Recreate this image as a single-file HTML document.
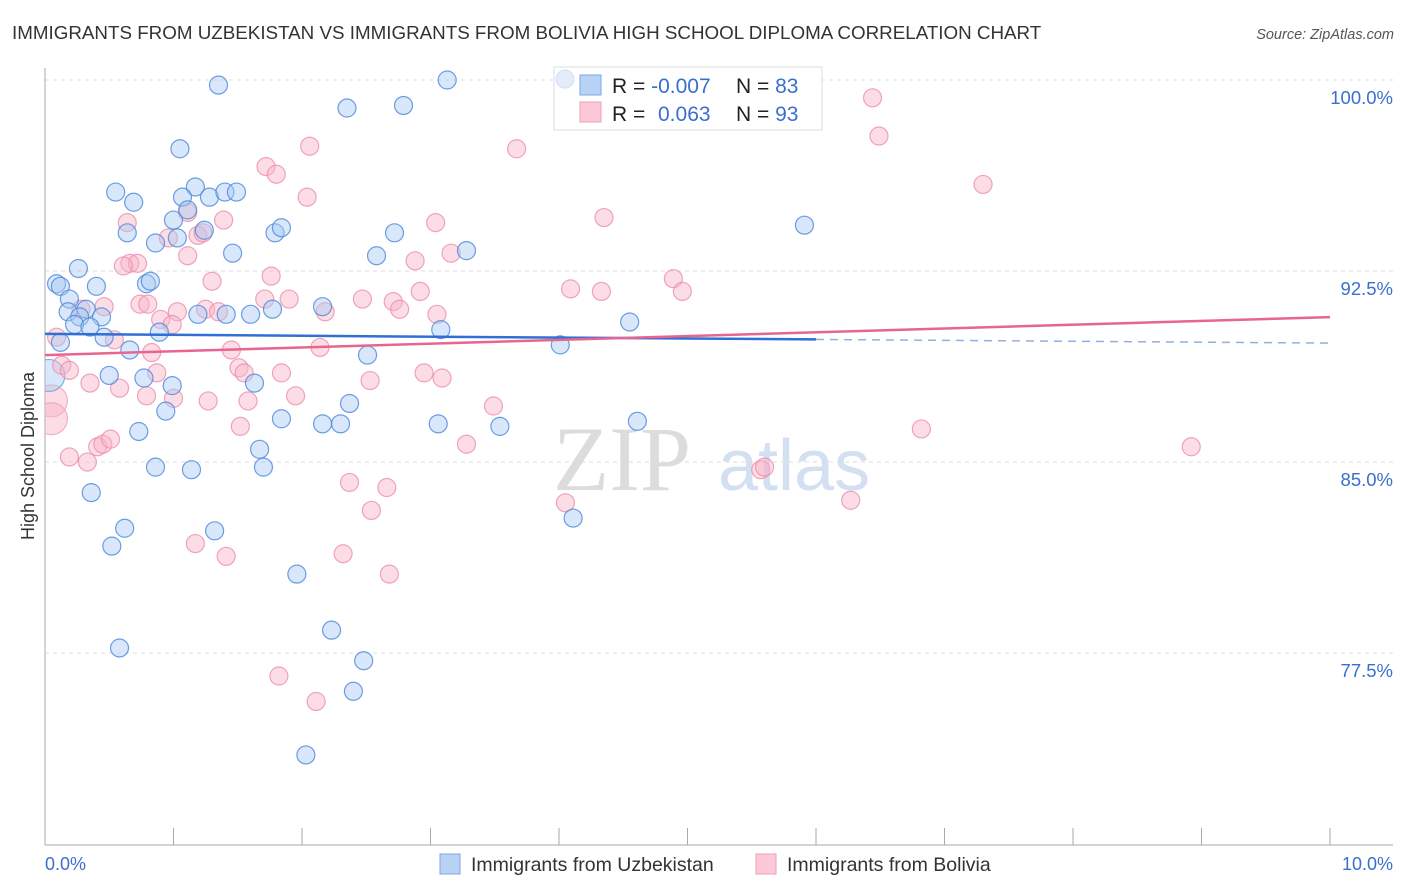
<!DOCTYPE html>
<html><head><meta charset="utf-8"><style>
body{margin:0;background:#fff;font-family:"Liberation Sans",sans-serif;}
#wrap{position:relative;width:1406px;height:892px;overflow:hidden;}
</style></head><body>
<div id="wrap">
<svg id="svg" width="1406" height="892" xmlns="http://www.w3.org/2000/svg">
<defs><clipPath id="plotclip"><rect x="45" y="60" width="1360" height="785"/></clipPath></defs>
<text x="12" y="39" font-size="18.8" fill="#333">IMMIGRANTS FROM UZBEKISTAN VS IMMIGRANTS FROM BOLIVIA HIGH SCHOOL DIPLOMA CORRELATION CHART</text>
<text x="1394" y="39" font-size="14.5" fill="#555" font-style="italic" text-anchor="end">Source: ZipAtlas.com</text>
<text transform="translate(34,456) rotate(-90)" font-size="18" fill="#333" text-anchor="middle">High School Diploma</text>
<g><text x="553" y="490" font-family="Liberation Serif" font-size="92" fill="#dcdcdc">ZIP</text><text x="718" y="490" font-size="72" fill="#d3e0f2">atlas</text></g>
<g id="grid"></g><g id="axes"></g><g id="pts" clip-path="url(#plotclip)"></g><g id="trend"></g>
<g>
<rect x="554" y="67" width="268" height="63" fill="#fff" stroke="#ddd"/>
<circle cx="565" cy="79" r="9" fill="#dde8f8" stroke="#c8d8ee" opacity="0.8"/>
<rect x="580" y="75" width="21" height="20" fill="#b8d3f5" stroke="#7aa8e8"/>
<rect x="580" y="102" width="21" height="20" fill="#fcc9d7" stroke="#f0a0b8"/>
<text x="612" y="93" font-size="21" fill="#222">R = <tspan fill="#3a6fd0">-0.007</tspan><tspan x="736">N = </tspan><tspan fill="#3a6fd0">83</tspan></text>
<text x="612" y="121" font-size="21" fill="#222">R = <tspan x="658" fill="#3a6fd0">0.063</tspan><tspan x="736">N = </tspan><tspan fill="#3a6fd0">93</tspan></text>
</g>
<g>
<rect x="440" y="854" width="20" height="20" fill="#b8d3f5" stroke="#7aa8e8"/>
<text x="471" y="871" font-size="19.5" fill="#333">Immigrants from Uzbekistan</text>
<rect x="756" y="854" width="20" height="20" fill="#fcc9d7" stroke="#f0a0b8"/>
<text x="787" y="871" font-size="19.5" fill="#333">Immigrants from Bolivia</text>
</g>
</svg>
</div>
<script>
const yTicks=[100,92.5,85,77.5];
const yTickLabels=["100.0%","92.5%","85.0%","77.5%"];
const xEndLabels=["0.0%","10.0%"];
const blueX=[1.35,3.13,2.35,2.79,1.05,0.55,0.69,1.17,1.07,1.28,1.40,1.49,1.00,1.11,0.64,0.86,1.03,1.24,1.46,1.79,1.84,2.72,2.58,3.28,5.91,0.09,0.12,0.26,0.40,0.79,0.82,0.19,0.32,0.18,0.27,0.44,0.23,0.35,0.46,1.19,1.41,1.60,1.77,2.16,3.08,4.55,0.89,0.12,0.66,0.50,0.77,0.99,1.63,2.51,4.01,0.73,0.94,1.84,2.16,2.30,2.37,3.06,3.54,4.61,1.67,1.70,0.86,1.14,0.36,0.62,0.52,1.32,4.11,1.96,2.23,0.58,2.48,2.40,2.03,4.05];
const blueY=[99.8,100.0,98.9,99.0,97.3,95.6,95.2,95.8,95.4,95.4,95.6,95.6,94.5,94.9,94.0,93.6,93.8,94.1,93.2,94.0,94.2,94.0,93.1,93.3,94.3,92.0,91.9,92.6,91.9,92.0,92.1,91.4,91.0,90.9,90.7,90.7,90.4,90.3,89.9,90.8,90.8,90.8,91.0,91.1,90.2,90.5,90.1,89.7,89.4,88.4,88.3,88.0,88.1,89.2,89.6,86.2,87.0,86.7,86.5,86.5,87.3,86.5,86.4,86.6,85.5,84.8,84.8,84.7,83.8,82.4,81.7,82.3,82.8,80.6,78.4,77.7,77.2,76.0,73.5,100.0];
const blueBigX=[0.03];
const blueBigY=[88.4];
const pinkX=[6.44,6.49,2.06,3.67,1.72,1.80,7.30,2.04,1.11,1.39,0.64,4.35,3.04,1.19,0.96,1.23,3.16,1.11,0.66,0.72,0.61,2.88,1.30,1.76,4.89,4.96,4.09,4.33,0.74,0.46,0.28,0.80,1.03,0.90,0.99,1.25,1.35,1.90,1.71,2.47,2.71,2.76,2.92,3.05,2.18,0.09,0.54,0.83,1.45,2.14,0.13,0.19,0.35,0.58,0.87,1.51,1.55,1.84,2.53,2.95,3.09,0.79,1.00,1.27,1.58,1.95,3.49,1.52,0.19,0.33,0.41,0.45,0.51,3.28,6.82,8.92,5.57,5.60,6.27,4.05,2.37,2.66,2.54,1.17,1.41,2.32,2.68,1.82,2.11];
const pinkY=[99.3,97.8,97.4,97.3,96.6,96.3,95.9,95.4,94.8,94.5,94.4,94.6,94.4,93.9,93.8,94.0,93.2,93.1,92.8,92.8,92.7,92.9,92.1,92.3,92.2,91.7,91.8,91.7,91.2,91.1,91.0,91.2,90.9,90.6,90.4,91.0,90.9,91.4,91.4,91.4,91.3,91.0,91.7,90.8,90.9,89.9,89.8,89.3,89.4,89.5,88.8,88.6,88.1,87.9,88.5,88.7,88.5,88.5,88.2,88.5,88.3,87.6,87.5,87.4,87.4,87.6,87.2,86.4,85.2,85.0,85.6,85.7,85.9,85.7,86.3,85.6,84.7,84.8,83.5,83.4,84.2,84.0,83.1,81.8,81.3,81.4,80.6,76.6,75.6];
const pinkBigX=[0.05,0.05];
const pinkBigY=[87.4,86.7];
const blueTrend=[90.03,89.67];
const blueSolidEnd=6.0;
const pinkTrend=[89.2,90.69];

const NS="http://www.w3.org/2000/svg";
const X0=45,X1=1330,Y100=80,PXPER=25.47;
const xs=v=>X0+(X1-X0)*v/10;
const ys=v=>Y100+(100-v)*PXPER;
function mk(tag,attrs,parent){const e=document.createElementNS(NS,tag);for(const k in attrs)e.setAttribute(k,attrs[k]);document.getElementById(parent).appendChild(e);return e;}

yTicks.forEach((t,i)=>{
 const l=mk('line',{x1:X0,x2:1393,y1:ys(t),y2:ys(t),stroke:'#ddd','stroke-dasharray':'4,4'},'grid');
 
 
 const tx=mk('text',{x:1393,y:ys(t)+24,'font-size':18.5,fill:'#3a6fd0','text-anchor':'end'},'grid');
 tx.textContent=yTickLabels[i];
 
 
});
const ya=mk('line',{x1:X0,x2:X0,y1:68,y2:845,stroke:'#aaa'},'axes');


const xa=mk('line',{x1:X0,x2:1393,y1:845,y2:845,stroke:'#aaa'},'axes');


for(let i=0;i<=10;i++){
 const t=mk('line',{x1:xs(i),x2:xs(i),y1:828,y2:845,stroke:'#aaa'},'axes');
 
 
}
[[0,'start',45],[10,'end',1393]].forEach((d,i)=>{
 const t=mk('text',{x:d[2],y:870,'font-size':18,fill:'#3a6fd0','text-anchor':d[1]},'axes');
 t.textContent=xEndLabels[i];
 
 
});
function dots(X,Y,r,fill,stroke,name){
 X.forEach((x,i)=>{
  const c=mk('circle',{cx:xs(x),cy:ys(Y[i]),r:r,fill:fill,'fill-opacity':0.45,stroke:stroke,'stroke-width':1.2,'stroke-opacity':0.8},'pts');
  
  
 });
}
dots(pinkBigX,pinkBigY,16,'#f8b4c8','#f0a0b8','bolivia-point');
dots(blueBigX,blueBigY,16,'#a9c9f2','#6a9de0','uzbekistan-point');
dots(pinkX,pinkY,9,'#f8b4c8','#eb8fac','bolivia-point');
dots(blueX,blueY,9,'#a9c9f2','#4a86dc','uzbekistan-point');
const bAt=x=>blueTrend[0]+(blueTrend[1]-blueTrend[0])*x/10;
const bt=mk('line',{x1:xs(0),y1:ys(bAt(0)),x2:xs(blueSolidEnd),y2:ys(bAt(blueSolidEnd)),stroke:'#2f6fd6','stroke-width':2.5},'trend');


const bd=mk('line',{x1:xs(blueSolidEnd),y1:ys(bAt(blueSolidEnd)),x2:xs(10),y2:ys(bAt(10)),stroke:'#8fb0e0','stroke-width':1.5,'stroke-dasharray':'8,6'},'trend');


const pt=mk('line',{x1:xs(0),y1:ys(pinkTrend[0]),x2:xs(10),y2:ys(pinkTrend[1]),stroke:'#e8658f','stroke-width':2.5},'trend');


</script>
</body></html>
